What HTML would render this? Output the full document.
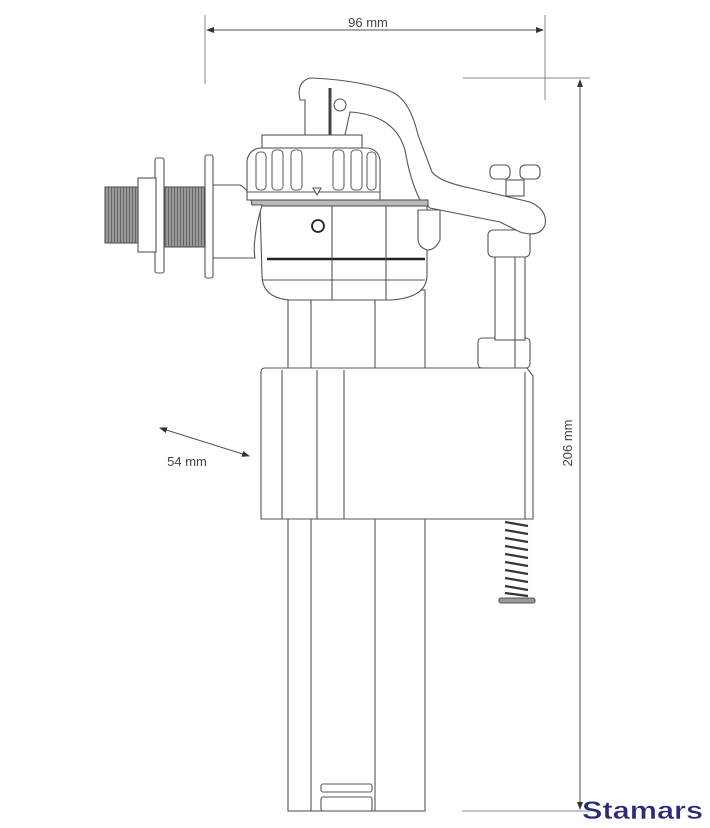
<!DOCTYPE html>
<html><head><meta charset="utf-8"><style>
html,body{margin:0;padding:0;background:#fff;}
svg{display:block;}
</style></head><body>
<svg width="710" height="828" viewBox="0 0 710 828" xmlns="http://www.w3.org/2000/svg" font-family="Liberation Sans, sans-serif">
<defs>
<marker id="a" markerWidth="8" markerHeight="6" refX="7" refY="3" orient="auto"><path d="M0,0 L8,3 L0,6z" fill="#333"/></marker>
<marker id="b" markerWidth="8" markerHeight="6" refX="1" refY="3" orient="auto"><path d="M8,0 L0,3 L8,6z" fill="#333"/></marker>
<pattern id="th" width="3" height="3" patternUnits="userSpaceOnUse"><rect width="3" height="3" fill="#999"/><line x1="0" y1="0" x2="0" y2="3" stroke="#444" stroke-width="1.2"/></pattern>
</defs>
<g stroke="#888" stroke-width="1" fill="none">
<line x1="205" y1="15" x2="205" y2="84"/>
<line x1="545" y1="15" x2="545" y2="100"/>
<line x1="207" y1="30" x2="543" y2="30" stroke="#555" marker-start="url(#b)" marker-end="url(#a)"/>
<line x1="463" y1="78" x2="590" y2="78"/>
<line x1="462" y1="811" x2="590" y2="811"/>
<line x1="580" y1="80" x2="580" y2="809" stroke="#555" marker-start="url(#b)" marker-end="url(#a)"/>
<line x1="160" y1="428" x2="249" y2="456" stroke="#555" marker-start="url(#b)" marker-end="url(#a)"/>
</g>
<text x="368" y="27" font-size="13" fill="#444" text-anchor="middle">96 mm</text>
<text x="187" y="466" font-size="13" fill="#444" text-anchor="middle">54 mm</text>
<text transform="translate(572,443) rotate(-90)" font-size="13" fill="#444" text-anchor="middle">206 mm</text>

<g stroke="#555" stroke-width="1.1" fill="#fff">
<rect x="288" y="515" width="137" height="296"/>
<line x1="311" y1="515" x2="311" y2="811"/>
<line x1="375" y1="515" x2="375" y2="811"/>
<rect x="321" y="784" width="51" height="8" rx="2"/>
<rect x="321" y="797" width="51" height="14" rx="2"/>
<rect x="288" y="290" width="137" height="80"/>
<line x1="311" y1="290" x2="311" y2="370"/>
<line x1="375" y1="290" x2="375" y2="370"/>
<path d="M261,372 Q261,368 265,368 L527,368 L533,376 L533,519 L261,519 Z"/>
<line x1="282" y1="370" x2="282" y2="519"/>
<line x1="317" y1="370" x2="317" y2="519"/>
<line x1="344" y1="370" x2="344" y2="519"/>
<line x1="525" y1="372" x2="525" y2="519"/>
<rect x="478" y="338" width="52" height="30" rx="4"/>
<rect x="495" y="255" width="30" height="85"/>
<line x1="515" y1="255" x2="515" y2="368"/>
<rect x="488" y="230" width="42" height="27" rx="5"/>
<path d="M300,100 Q296,82 310,78 Q360,80 392,92 Q410,100 418,135 L432,172 Q440,182 470,188 L530,202 Q548,210 545,225 Q540,238 520,232 L500,222 L430,208 L420,200 Q410,180 405,150 Q395,115 350,112 L345,135 L305,135 L305,100 Z"/>
<line x1="330" y1="88" x2="330" y2="135" stroke="#444" stroke-width="3"/>
<circle cx="340" cy="105" r="6"/>
<rect x="506" y="180" width="18" height="16"/>
<rect x="490" y="165" width="20" height="14" rx="5"/>
<rect x="520" y="165" width="20" height="14" rx="5"/>
<path d="M260,205 L427,205 L427,275 Q427,298 390,300 L290,300 Q262,298 262,275 Z"/>
<line x1="267" y1="259" x2="425" y2="259" stroke="#222" stroke-width="2.5"/>
<line x1="332" y1="205" x2="332" y2="300"/>
<line x1="386" y1="205" x2="386" y2="300"/>
<line x1="262" y1="280" x2="425" y2="280"/>
<circle cx="318" cy="226" r="6" stroke="#222" stroke-width="1.8"/>
<path d="M418,210 L440,210 L440,240 Q435,250 428,250 Q418,248 418,238 Z"/>
<rect x="213" y="200" width="215" height="6" fill="#bbb"/>
<path d="M213,185 L240,185 Q250,190 252,205 L262,205 Q252,240 255,258 L213,258 Z"/>
<rect x="247" y="190" width="133" height="10"/>
<path d="M247,192 L247,160 Q250,148 262,148 L365,148 Q378,148 380,160 L380,192 Z"/>
<rect x="262" y="135" width="100" height="13"/>
<g stroke="#666">
<rect x="256" y="152" width="10" height="38" rx="4"/>
<rect x="272" y="150" width="11" height="40" rx="4"/>
<rect x="291" y="150" width="11" height="40" rx="4"/>
<rect x="333" y="150" width="11" height="40" rx="4"/>
<rect x="351" y="150" width="11" height="40" rx="4"/>
<rect x="367" y="152" width="9" height="38" rx="4"/>
</g>
<path d="M313,188 L321,188 L317,195 Z"/>
<rect x="205" y="155" width="8" height="123" rx="2"/>
<rect x="165" y="187" width="40" height="60" fill="url(#th)"/>
<rect x="155" y="158" width="9" height="115" rx="2"/>
<rect x="138" y="178" width="18" height="74"/>
<rect x="105" y="187" width="33" height="56" fill="url(#th)"/>
<g stroke="#333" stroke-width="2.2">
<line x1="505" y1="522" x2="528" y2="526"/><line x1="505" y1="530" x2="528" y2="534"/>
<line x1="505" y1="538" x2="528" y2="542"/><line x1="505" y1="546" x2="528" y2="550"/>
<line x1="505" y1="554" x2="528" y2="558"/><line x1="505" y1="562" x2="528" y2="566"/>
<line x1="505" y1="570" x2="528" y2="574"/><line x1="505" y1="578" x2="528" y2="582"/>
<line x1="505" y1="586" x2="528" y2="590"/><line x1="505" y1="593" x2="528" y2="596"/>
</g>
<rect x="499" y="598" width="36" height="5" rx="2" fill="#999"/>
</g>
<text x="582" y="819" font-size="25" font-weight="bold" fill="#2a2a7a" stroke="#fff" stroke-width="0.4" textLength="121" lengthAdjust="spacingAndGlyphs">Stamars</text>
</svg>
</body></html>
